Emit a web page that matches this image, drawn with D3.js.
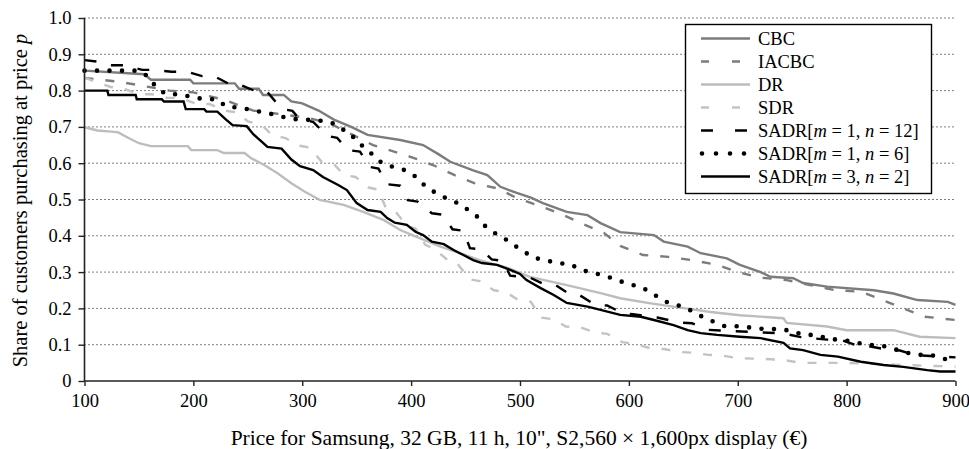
<!DOCTYPE html>
<html><head><meta charset="utf-8">
<script src="https://cdn.jsdelivr.net/npm/d3@7"></script>
<style>
html,body{margin:0;padding:0;background:#fff;}
svg{display:block;font-family:"Liberation Serif","Times New Roman",serif;}
</style></head>
<body><svg id="chart" width="969" height="449"></svg>
<script>
// ---- data ----
const xTicks = [100,200,300,400,500,600,700,800,900];
const yTicks = [0,0.1,0.2,0.3,0.4,0.5,0.6,0.7,0.8,0.9,1.0];
const yTickLabels = ["0","0.1","0.2","0.3","0.4","0.5","0.6","0.7","0.8","0.9","1.0"];
const seriesNames = ["CBC","IACBC","DR","SDR","SADR12","SADR6","SADR32"];

const cbc = [[100,0.855],[155,0.845],[161,0.83],[197,0.83],[200,0.82],[238,0.82],[242,0.805],[260,0.805],[264,0.788],[283,0.788],[290,0.77],[300,0.765],[315,0.745],[329,0.72],[345,0.70],[360,0.678],[390,0.664],[411,0.65],[425,0.625],[436,0.604],[457,0.58],[470,0.567],[482,0.535],[497,0.518],[510,0.505],[521,0.49],[543,0.466],[562,0.457],[574,0.435],[592,0.41],[623,0.402],[632,0.384],[654,0.37],[666,0.352],[690,0.338],[702,0.32],[721,0.30],[730,0.287],[751,0.283],[760,0.27],[782,0.26],[825,0.25],[843,0.241],[865,0.223],[893,0.218],[900,0.21]];
const iacbc = [[100,0.835],[130,0.825],[150,0.815],[178,0.80],[200,0.795],[228,0.775],[255,0.745],[280,0.735],[305,0.725],[325,0.71],[345,0.68],[365,0.65],[380,0.636],[400,0.617],[420,0.595],[440,0.567],[458,0.545],[480,0.53],[497,0.504],[520,0.48],[538,0.46],[556,0.435],[577,0.408],[592,0.372],[613,0.347],[636,0.342],[658,0.333],[681,0.32],[700,0.30],[720,0.285],[745,0.278],[765,0.265],[790,0.25],[813,0.246],[833,0.223],[852,0.20],[872,0.177],[900,0.168]];
const dr = [[100,0.699],[112,0.69],[125,0.687],[131,0.685],[140,0.67],[150,0.655],[161,0.647],[195,0.647],[198,0.636],[222,0.636],[228,0.628],[247,0.628],[253,0.614],[265,0.595],[277,0.573],[290,0.545],[302,0.522],[316,0.499],[338,0.485],[356,0.466],[375,0.443],[390,0.416],[405,0.397],[427,0.37],[445,0.352],[463,0.333],[490,0.31],[509,0.287],[543,0.264],[574,0.242],[592,0.228],[620,0.214],[652,0.20],[675,0.19],[702,0.181],[742,0.173],[745,0.16],[782,0.15],[800,0.14],[843,0.14],[867,0.122],[900,0.118]];
const sdr = [[100,0.835],[105,0.83],[124,0.81],[136,0.805],[151,0.79],[162,0.79],[176,0.78],[188,0.78],[203,0.763],[215,0.763],[229,0.745],[240,0.74],[250,0.715],[263,0.705],[273,0.675],[284,0.67],[298,0.648],[307,0.643],[318,0.603],[329,0.598],[338,0.568],[349,0.562],[361,0.533],[370,0.527],[377,0.475],[386,0.465],[396,0.428],[404,0.42],[413,0.375],[421,0.365],[434,0.332],[442,0.325],[454,0.28],[463,0.275],[476,0.25],[487,0.245],[499,0.222],[510,0.218],[519,0.175],[531,0.17],[542,0.15],[555,0.148],[569,0.134],[580,0.13],[594,0.107],[604,0.103],[620,0.09],[632,0.088],[647,0.08],[658,0.078],[673,0.072],[686,0.07],[700,0.063],[730,0.06],[742,0.058],[758,0.05],[799,0.05],[873,0.042],[900,0.04]];
const sadr12 = [[100,0.884],[112,0.88],[124,0.87],[138,0.87],[153,0.857],[164,0.857],[180,0.852],[194,0.852],[208,0.84],[219,0.84],[235,0.815],[244,0.815],[259,0.796],[268,0.796],[281,0.75],[291,0.744],[298,0.72],[310,0.714],[323,0.675],[332,0.67],[342,0.636],[353,0.632],[362,0.59],[370,0.585],[378,0.542],[390,0.538],[397,0.498],[406,0.494],[419,0.462],[429,0.458],[438,0.418],[448,0.414],[454,0.366],[465,0.362],[474,0.335],[484,0.331],[491,0.29],[509,0.285],[521,0.268],[532,0.266],[546,0.238],[555,0.236],[569,0.21],[580,0.208],[595,0.186],[604,0.184],[621,0.177],[626,0.175],[647,0.161],[658,0.159],[673,0.141],[684,0.139],[728,0.133],[742,0.131],[758,0.121],[764,0.119],[782,0.114],[796,0.112],[810,0.097],[822,0.095],[838,0.086],[849,0.084],[863,0.071],[877,0.069],[900,0.065]];
const sadr6 = [[100,0.855],[150,0.855],[159,0.838],[166,0.808],[175,0.79],[187,0.79],[198,0.783],[210,0.776],[222,0.776],[230,0.756],[245,0.752],[256,0.745],[268,0.738],[279,0.73],[290,0.722],[302,0.72],[313,0.718],[326,0.714],[334,0.698],[344,0.683],[351,0.656],[360,0.639],[367,0.614],[376,0.595],[387,0.588],[397,0.578],[406,0.559],[414,0.533],[423,0.518],[433,0.502],[443,0.49],[451,0.474],[460,0.455],[468,0.427],[476,0.409],[485,0.394],[494,0.375],[503,0.358],[512,0.34],[523,0.333],[534,0.325],[546,0.322],[556,0.306],[567,0.298],[579,0.289],[589,0.278],[600,0.267],[611,0.259],[621,0.243],[629,0.226],[639,0.212],[650,0.205],[659,0.191],[668,0.176],[678,0.163],[688,0.151],[700,0.151],[725,0.143],[737,0.143],[750,0.138],[760,0.127],[773,0.127],[783,0.116],[796,0.113],[806,0.108],[819,0.099],[830,0.099],[842,0.09],[852,0.08],[865,0.072],[877,0.072],[888,0.063],[900,0.05]];
const sadr32 = [[100,0.80],[121,0.80],[122,0.788],[147,0.788],[148,0.776],[171,0.776],[173,0.77],[191,0.77],[193,0.749],[210,0.749],[212,0.742],[222,0.742],[230,0.72],[236,0.705],[249,0.702],[255,0.68],[264,0.656],[268,0.645],[281,0.64],[290,0.61],[298,0.592],[310,0.581],[319,0.562],[333,0.54],[341,0.526],[350,0.49],[360,0.471],[372,0.466],[378,0.449],[385,0.436],[396,0.43],[404,0.411],[411,0.402],[419,0.384],[430,0.377],[439,0.361],[448,0.347],[457,0.333],[465,0.325],[479,0.32],[491,0.306],[500,0.295],[506,0.278],[519,0.256],[531,0.237],[543,0.215],[562,0.205],[574,0.196],[592,0.182],[611,0.177],[623,0.168],[641,0.154],[654,0.14],[666,0.132],[681,0.127],[702,0.122],[721,0.118],[742,0.105],[748,0.09],[760,0.085],[776,0.072],[792,0.067],[813,0.053],[834,0.044],[852,0.039],[874,0.03],[886,0.026],[900,0.026]];

// ---- styles / layout ----
const styles = {
  CBC:    {data: cbc,    color:"#7c7c7c", width:2.4, dash:null,    legendDash:null},
  IACBC:  {data: iacbc,  color:"#7c7c7c", width:2.4, dash:"9,12",  legendDash:"8,23"},
  DR:     {data: dr,     color:"#bdbdbd", width:2.4, dash:null,    legendDash:null},
  SDR:    {data: sdr,    color:"#c3c3c3", width:2.4, dash:"9,12",  legendDash:"8,23"},
  SADR12: {data: sadr12, color:"#000000", width:2.4, dash:"12,15", legendDash:"12,22"},
  SADR6:  {data: sadr6,  color:"#000000", width:4.6, dash:"0,12.5",legendDash:"0,14", cap:"round"},
  SADR32: {data: sadr32, color:"#000000", width:2.4, dash:null,    legendDash:null}
};

const svg = d3.select("#chart");
const x = d3.scaleLinear().domain([100,900]).range([84.5,955.5]);
const y = d3.scaleLinear().domain([0,1]).range([381,18]);

// grid
svg.append("g").selectAll("line").data(yTicks.filter(d=>d>0)).join("line")
  .attr("x1",x(100)).attr("x2",x(900))
  .attr("y1",d=>y(d)).attr("y2",d=>y(d))
  .attr("stroke","#000").attr("stroke-width",1).attr("stroke-dasharray","1,3");

// lines
const line = d3.line().x(d=>x(d[0])).y(d=>y(d[1]));
seriesNames.forEach(name=>{
  const s = styles[name];
  svg.append("path").datum(s.data).attr("d",line)
    .attr("fill","none").attr("stroke",s.color).attr("stroke-width",s.width)
    .attr("stroke-dasharray",s.dash).attr("stroke-linecap",s.cap||"butt")
    .attr("stroke-linejoin","miter");
});

// axes
const tickFont = "18.5px";
const xAxis = svg.append("g").attr("transform",`translate(0,${y(0)})`)
  .call(d3.axisBottom(x).tickValues(xTicks).tickSize(5).tickPadding(8).tickFormat(d3.format("d")));
const yAxis = svg.append("g").attr("transform",`translate(${x(100)},0)`)
  .call(d3.axisLeft(y).tickValues(yTicks).tickSize(6).tickPadding(7).tickFormat((d,i)=>yTickLabels[i]));
[xAxis,yAxis].forEach(a=>{
  a.select(".domain").attr("stroke","#222").attr("stroke-width",1.6);
  a.selectAll(".tick line").attr("stroke","#222").attr("stroke-width",1.4);
  a.selectAll(".tick text").attr("font-family","Liberation Serif, serif").attr("font-size",tickFont).attr("fill","#000");
});
xAxis.select(".domain").attr("d",`M${x(100)},0H${x(900)}`);
yAxis.select(".domain").attr("d",`M0,${y(1)}V${y(0)}`);

// axis titles
svg.append("text").attr("x",519).attr("y",445)
  .attr("text-anchor","middle").attr("font-size","21.5px")
  .text("Price for Samsung, 32 GB, 11 h, 10\", S2,560 \u00d7 1,600px display (\u20ac)");
const yt = svg.append("text").attr("transform",`translate(27,${(y(0)+y(1))/2 + 1}) rotate(-90)`)
  .attr("text-anchor","middle").attr("font-size","20.5px");
yt.append("tspan").text("Share of customers purchasing at price ");
yt.append("tspan").attr("font-style","italic").text("p");

// legend
const legendLabels = {
  CBC:[["CBC",false]], IACBC:[["IACBC",false]], DR:[["DR",false]], SDR:[["SDR",false]],
  SADR12:[["SADR[",false],["m",true],[" = 1, ",false],["n",true],[" = 12]",false]],
  SADR6:[["SADR[",false],["m",true],[" = 1, ",false],["n",true],[" = 6]",false]],
  SADR32:[["SADR[",false],["m",true],[" = 3, ",false],["n",true],[" = 2]",false]]
};
const lg = svg.append("g");
lg.append("rect").attr("x",685.5).attr("y",24.5).attr("width",246).attr("height",169)
  .attr("fill","#fff").attr("stroke","#000").attr("stroke-width",1.4);
seriesNames.forEach((name,i)=>{
  const s = styles[name];
  const cy = 38.5 + i*23;
  lg.append("line").attr("x1",s.cap?702:701).attr("x2",750).attr("y1",cy).attr("y2",cy)
    .attr("stroke",s.color).attr("stroke-width",s.width)
    .attr("stroke-dasharray",s.legendDash).attr("stroke-linecap",s.cap||"butt");
  const t = lg.append("text").attr("x",758).attr("y",cy).attr("dy","0.35em").attr("font-size","18.5px");
  legendLabels[name].forEach(p=>{
    t.append("tspan").attr("font-style",p[1]?"italic":null).text(p[0]);
  });
});
</script>
</body></html>
